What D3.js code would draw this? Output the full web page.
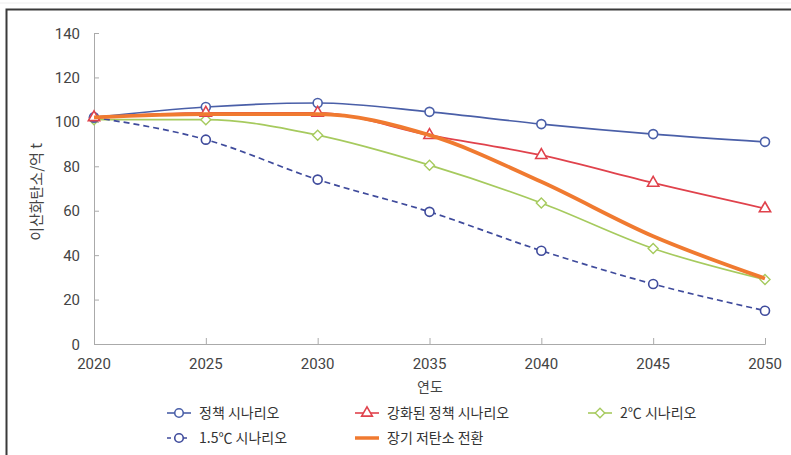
<!DOCTYPE html>
<html><head><meta charset="utf-8">
<script src="https://cdn.jsdelivr.net/npm/d3@7"></script>
<style>
body{margin:0;background:#fff;}
text{font-family:"Noto Sans CJK KR","Noto Sans",sans-serif;}
.num{font-family:Roboto,"Liberation Sans",sans-serif;}
</style></head>
<body><svg id="c" width="791" height="455"></svg>
<script>
const years = [2020, 2025, 2030, 2035, 2040, 2045, 2050];
const policy = [102, 106.7, 108.5, 104.5, 99, 94.5, 91];
const enhanced = [102, 104, 104, 94, 85, 72.5, 61];
const twoDeg = [101, 101, 94, 80.5, 63.5, 43, 29];
const onePointFive = [102, 92, 74, 59.5, 42, 27, 15];
const longTerm = [102, 103.5, 103.5, 94, 73, 48.5, 29.5];
const yTicks = [0, 20, 40, 60, 80, 100, 120, 140];
const seriesNames = ["정책 시나리오", "강화된 정책 시나리오", "2℃ 시나리오", "1.5℃ 시나리오", "장기 저탄소 전환"];
const yLabel = "이산화탄소/억 t";
const xLabel = "연도";

const svg = d3.select("#c");
// frame
svg.append("line").attr("x1",0).attr("x2",791).attr("y1",3).attr("y2",3).attr("stroke","#eee").attr("stroke-width",1);
svg.append("path").attr("d","M6.5,455 L6.5,9.5 L791,9.5").attr("fill","none").attr("stroke","#3a3a3a").attr("stroke-width",2);

const x = d3.scaleLinear().domain([2020,2050]).range([94,765]);
const y = d3.scaleLinear().domain([0,140]).range([344,33]);

const axisColor = "#aaa";
const yAxis = svg.append("g").attr("transform","translate(94,0)")
  .call(d3.axisRight(y).tickValues(yTicks).tickSize(5).tickFormat(""));
yAxis.select(".domain").attr("stroke",axisColor);
yAxis.selectAll("line").attr("stroke",axisColor);
svg.selectAll(".ylab").data(yTicks).join("text").attr("class","ylab num")
  .attr("x",80).attr("y",d=>y(d)+5.5).attr("text-anchor","end")
  .attr("font-size",15).attr("fill","#444").text(d=>d);

const xAxis = svg.append("g").attr("transform","translate(0,344)")
  .call(d3.axisTop(x).tickValues(years).tickSize(6).tickFormat(""));
xAxis.select(".domain").attr("stroke",axisColor);
xAxis.selectAll("line").attr("stroke",axisColor);
svg.selectAll(".xlab").data(years).join("text").attr("class","xlab num")
  .attr("x",d=>x(d)).attr("y",369).attr("text-anchor","middle")
  .attr("font-size",15).attr("fill","#444").text(d=>d);

svg.append("text").attr("transform","translate(42,192) rotate(-90)")
  .attr("text-anchor","middle").attr("font-size",15).attr("fill","#444").text(yLabel);
svg.append("text").attr("x",430).attr("y",392).attr("text-anchor","middle")
  .attr("font-size",14).attr("fill","#444").text(xLabel);

const series = [
  {name:seriesNames[0], v:policy, color:"#4a5fa8", w:1.7, dash:null, marker:"circle"},
  {name:seriesNames[1], v:enhanced, color:"#e0424c", w:1.7, dash:null, marker:"triangle"},
  {name:seriesNames[2], v:twoDeg, color:"#a6ca5e", w:1.7, dash:null, marker:"diamond"},
  {name:seriesNames[3], v:onePointFive, color:"#3f4b9c", w:1.7, dash:"6,4", marker:"circle"},
  {name:seriesNames[4], v:longTerm, color:"#f07a30", w:3.8, dash:null, marker:null}
];

const line = d3.line().x((d,i)=>x(years[i])).y(d=>y(d)).curve(d3.curveMonotoneX);

function marker(g, type, cx, cy, color, sc){
  sc = sc||1;
  if(type==="circle"){
    g.append("circle").attr("cx",cx).attr("cy",cy).attr("r",4.5*sc).attr("fill","#fff").attr("stroke",color).attr("stroke-width",1.6);
  } else if(type==="triangle"){
    const s=d3.symbol().type(d3.symbolTriangle).size(55*sc*sc);
    g.append("path").attr("d",s()).attr("transform",`translate(${cx},${cy})`).attr("fill","#fff").attr("stroke",color).attr("stroke-width",1.6);
  } else if(type==="diamond"){
    const r=5*sc;
    g.append("path").attr("d",`M${cx},${cy-r}L${cx+r},${cy}L${cx},${cy+r}L${cx-r},${cy}Z`).attr("fill","#fff").attr("stroke",color).attr("stroke-width",1.4);
  }
}

const order = [2,3,0,1,4];
order.forEach(k=>{
  const s=series[k];
  const g=svg.append("g");
  g.append("path").attr("d",line(s.v)).attr("fill","none").attr("stroke",s.color)
    .attr("stroke-width",s.w).attr("stroke-dasharray",s.dash);
  if(s.marker) s.v.forEach((d,i)=>marker(g,s.marker,x(years[i]),y(d),s.color));
});

// legend
const legPos = [[167,413],[355,413],[588,413],[167,438],[355,438]];
series.forEach((s,k)=>{
  const [lx,ly]=legPos[k];
  const g=svg.append("g");
  if(s.marker){
    g.append("line").attr("x1",lx).attr("x2",lx+24).attr("y1",ly).attr("y2",ly)
      .attr("stroke",s.color).attr("stroke-width",1.6).attr("stroke-dasharray",s.dash?"4,4":null);
    marker(g,s.marker,lx+12,ly,s.color,0.95);
  } else {
    g.append("line").attr("x1",lx).attr("x2",lx+24).attr("y1",ly).attr("y2",ly)
      .attr("stroke",s.color).attr("stroke-width",3.5);
  }
  g.append("text").attr("x",lx+32).attr("y",ly+5).attr("font-size",14).attr("fill","#333").text(s.name);
});
</script></body></html>
